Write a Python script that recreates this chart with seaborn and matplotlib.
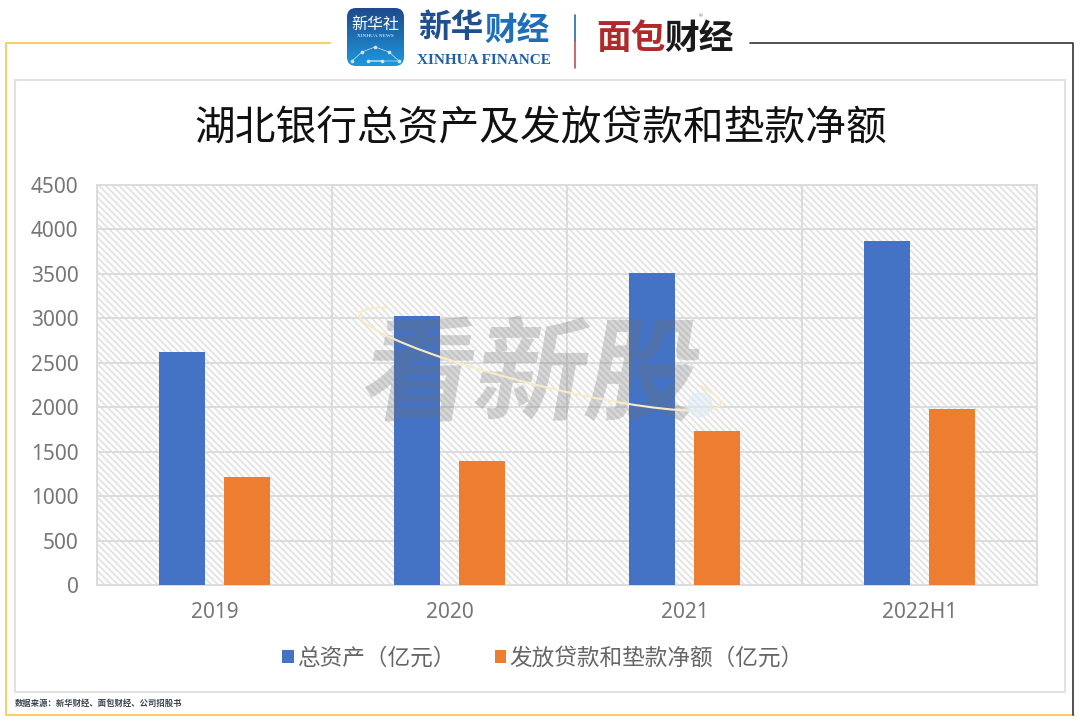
import numpy as np
import pandas as pd
import matplotlib
matplotlib.use('Agg')
import matplotlib.pyplot as plt
import seaborn as sns
from matplotlib.font_manager import FontProperties
from matplotlib.patches import FancyBboxPatch, PathPatch, Rectangle, Circle
from matplotlib.path import Path
from matplotlib.textpath import TextPath
from matplotlib.transforms import Affine2D

periods = ['2019', '2020', '2021', '2022H1']
total_assets = [2619, 3030, 3505, 3865]
net_loans = [1215, 1395, 1735, 1985]
series_names = ['总资产（亿元）', '发放贷款和垫款净额（亿元）']
y_ticks = [0, 500, 1000, 1500, 2000, 2500, 3000, 3500, 4000, 4500]
title = '湖北银行总资产及发放贷款和垫款净额'
source = '数据来源：新华财经、面包财经、公司招股书'

W, H = 1080, 722
CJK = ['Noto Sans CJK SC', 'DejaVu Sans']

sns.set_theme(style='white')
plt.rcParams['font.family'] = CJK
plt.rcParams['hatch.linewidth'] = 1.3
plt.rcParams['hatch.color'] = '#e2e2e2'

df = pd.DataFrame({
    'period': periods * 2,
    'value': total_assets + net_loans,
    'series': [series_names[0]] * 4 + [series_names[1]] * 4,
})

fig = plt.figure(figsize=(W / 100, H / 100), dpi=100, facecolor='white')

# chart area
ax = fig.add_axes([97 / W, 1 - 585 / H, 940 / W, 400 / H])
ax.add_patch(Rectangle((0, 0), 1, 1, transform=ax.transAxes, facecolor='white',
                       edgecolor='#e2e2e2', hatch='\\' * 5, lw=0, zorder=0))
sns.barplot(data=df, x='period', y='value', hue='series', hue_order=series_names,
            palette=['#4472c4', '#ed7d31'], width=0.553, gap=0.29, saturation=1,
            edgecolor='none', linewidth=0, ax=ax, zorder=3)
ax.set_xlim(-0.5, 3.5)
ax.set_ylim(0, 4500)
ax.set_yticks(y_ticks)
ax.set_xlabel('')
ax.set_ylabel('')
ax.set_xticks([0.5, 1.5, 2.5], minor=True)
ax.grid(True, axis='y', color='#dcdcdc', lw=1.4, zorder=1)
ax.grid(True, axis='x', which='minor', color='#dcdcdc', lw=1.4, zorder=1)
ax.set_axisbelow(True)
ax.tick_params(axis='both', which='both', length=0)
ax.tick_params(axis='y', labelsize=15, labelcolor='#767676', pad=13.4)
ax.tick_params(axis='x', labelsize=15, labelcolor='#767676', pad=12)
for lab in ax.get_xticklabels() + ax.get_yticklabels():
    lab.set_family('Noto Sans')
for s in ax.spines.values():
    s.set_color('#dcdcdc')
    s.set_linewidth(1.4)

handles, labels = ax.get_legend_handles_labels()
leg = ax.legend(handles, labels, loc='center', bbox_to_anchor=(543 / W, 1 - 658 / H),
                bbox_transform=fig.transFigure, ncols=2, frameon=False, fontsize=16.3,
                handlelength=0.5, handleheight=0.5, handletextpad=0.15, columnspacing=1.75)
for t in leg.get_texts():
    t.set_color('#666666')

# page decoration, in pixel coordinates
deco = fig.add_axes([0, 0, 1, 1], facecolor='none')
deco.set_xlim(0, W)
deco.set_ylim(H, 0)
deco.axis('off')

deco.plot([330, 6, 6, 1074], [43, 43, 715, 715], color='#f6d06f', lw=1.5)
deco.plot([750, 1073, 1073], [43, 43, 715], color='#333333', lw=1.2)
deco.add_patch(Rectangle((15, 80), 1050, 612, fill=False, edgecolor='#e2e2e2', lw=1.5))

deco.text(541, 129, title, fontsize=29.3, color='#111111', ha='center', va='center')
deco.text(15, 703, source, fontsize=6, color='#3b4250', ha='left', va='center', weight='bold')

# watermark
fp = FontProperties(family='Noto Sans CJK SC', weight='black')
mark = TextPath((0, 0), '看新股', size=112, prop=fp)
skew = Affine2D().skew_deg(10, 0).scale(1, -1).translate(358, 411)
deco.add_patch(PathPatch(mark, transform=skew + deco.transData, facecolor='#6f6f6f',
                         edgecolor='none', lw=0, alpha=0.28, zorder=6))
swoosh = Affine2D().scale(186, 26).rotate_deg(14).translate(540, 359)
deco.add_patch(PathPatch(Path.arc(-30, 210), transform=swoosh + deco.transData, fill=False,
                         edgecolor='#f8ecc8', lw=1.5, zorder=7))
deco.add_patch(Circle((700, 405), 12, color='#dfecf6', alpha=0.6, zorder=7))

# xinhua icon
clip = FancyBboxPatch((349, 10), 53, 54, boxstyle='round,pad=2,rounding_size=9',
                      facecolor='none', edgecolor='none')
deco.add_patch(clip)
grad = np.linspace(0, 1, 64).reshape(-1, 1)
img = deco.imshow(grad, extent=(347, 404, 66, 8), cmap=matplotlib.colors.LinearSegmentedColormap.from_list(
    'icon', ['#1d4a8c', '#1f97dc']), aspect='auto', zorder=2)
img.set_clip_path(clip)
deco.set_xlim(0, W)
deco.set_ylim(H, 0)
deco.text(375.5, 24, '新华社', fontsize=11.5, color='white', ha='center', va='center', zorder=3)
deco.text(375.5, 36, 'XINHUA NEWS', fontsize=3.8, color='white', ha='center', va='center',
          family='Liberation Serif', zorder=3)
net_x = [352, 362, 375, 389, 399, 368, 382]
net_y = [61, 52, 47, 52, 61, 61, 61]
deco.plot(net_x, net_y, color='#cfe6f6', lw=0.5, marker='o', ms=1.6, zorder=3)

# brand text
deco.text(418, 28, '新华', fontsize=23.5, color='#1f4f8f', weight='bold', ha='left', va='center')
deco.text(484, 30, '财经', fontsize=23.5, color='#1f6fb8', weight='bold', ha='left', va='center')
deco.text(484, 60, 'XINHUA FINANCE', fontsize=11, color='#1f5fa8', weight='bold', ha='center',
          va='center', family='Liberation Serif')
deco.plot([575, 575], [15, 41], color='#2a6aa8', lw=1.2)
deco.plot([575, 575], [41, 68], color='#c0504d', lw=1.2)
deco.text(596, 38, '面包', fontsize=25, color='#b02a2c', weight='bold', ha='left', va='center')
deco.text(664, 38, '财经', fontsize=25, color='#1a1a1a', weight='bold', ha='left', va='center')
deco.text(701, 17, '®', fontsize=5.5, color='#777777', ha='center', va='center')

fig.savefig('out.png', dpi=100)
